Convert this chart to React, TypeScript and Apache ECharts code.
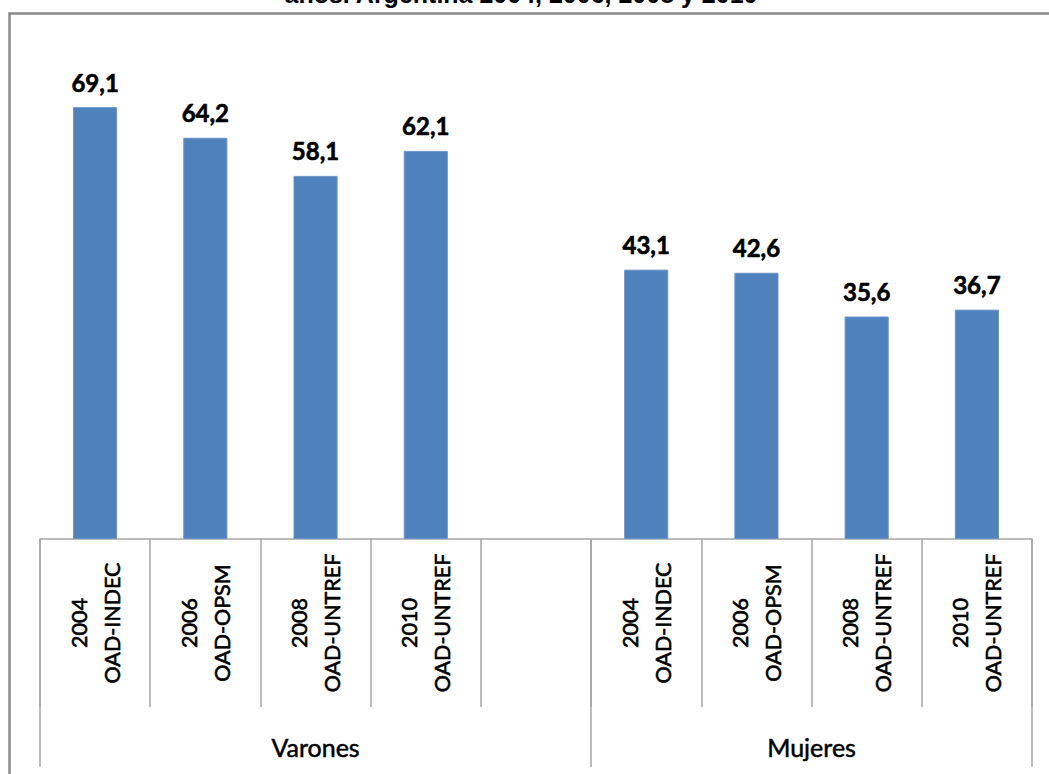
import React, { useEffect, useRef } from "react";
import * as echarts from "echarts";

const titleLine = "años. Argentina 2004, 2006, 2008 y 2010";
const groups = ["Varones", "Mujeres"];
const years = ["2004", "2006", "2008", "2010"];
const sources = ["OAD-INDEC", "OAD-OPSM", "OAD-UNTREF", "OAD-UNTREF"];
const varones = [69.1, 64.2, 58.1, 62.1];
const mujeres = [43.1, 42.6, 35.6, 36.7];

const FONT = "Lato";
const AXIS_GRAY = "#a6a6a6";

export default function App() {
  const ref = useRef<HTMLDivElement>(null);
  useEffect(() => {
    if (!ref.current) return;
    const chart = echarts.init(ref.current, null, { renderer: "svg" });
    const catLabels = years.map((y, i) => `${y}\n${sources[i]}`);
    const categories = [...catLabels, "", ...catLabels];
    const values: (number | null)[] = [...varones, null, ...mujeres];
    const nV = varones.length + 1;
    const nTotal = categories.length;
    const groupCenters = [nV / 2, nV + mujeres.length / 2];
    const groupEdges = [0, nV, nTotal];

    chart.setOption({
      animation: false,
      backgroundColor: "#ffffff",
      grid: { left: 40, right: 17, top: 39, bottom: 235, containLabel: false },
      xAxis: [
        {
          type: "category",
          data: categories,
          position: "bottom",
          axisLine: { show: true, lineStyle: { color: AXIS_GRAY, width: 1.5 } },
          axisTick: { show: true, length: 168, lineStyle: { color: AXIS_GRAY, width: 1.5 } },
          axisLabel: {
            interval: 0,
            rotate: 90,
            align: "center",
            verticalAlign: "middle",
            margin: 84,
            lineHeight: 33,
            fontFamily: FONT,
            fontSize: 21.5,
            color: "#000000",
            textBorderColor: "#000000",
            textBorderWidth: 0.6,
          },
        },
        {
          type: "value",
          min: 0,
          max: nTotal,
          position: "bottom",
          offset: 0,
          axisLine: { show: false },
          splitLine: { show: false },
          axisTick: {
            show: true,
            customValues: groupEdges,
            length: 228,
            lineStyle: { color: AXIS_GRAY, width: 1.5 },
          },
          axisLabel: {
            show: true,
            customValues: groupCenters,
            formatter: (v: number) => {
              const idx = groupCenters.indexOf(v);
              return idx >= 0 ? groups[idx] : "";
            },
            verticalAlign: "middle",
            margin: 208,
            fontFamily: FONT,
            fontSize: 25,
            color: "#000000",
            textBorderColor: "#000000",
            textBorderWidth: 0.5,
          },
        },
      ],
      yAxis: { type: "value", min: 0, max: 80, show: false },
      series: [
        {
          type: "bar",
          xAxisIndex: 0,
          data: values,
          barWidth: "40%",
          itemStyle: { color: "#4F81BD", borderColor: "#6a93c8", borderWidth: 1 },
          label: {
            show: true,
            position: "top",
            distance: 13,
            fontFamily: FONT,
            fontWeight: "bold",
            fontSize: 24,
            color: "#000000",
            textBorderColor: "#000000",
            textBorderWidth: 0.6,
            formatter: (p: any) => (p.value == null ? "" : Number(p.value).toFixed(1).replace(".", ",")),
          },
        },
      ],
      graphic: [
        {
          type: "rect",
          shape: { x: 9.5, y: 13.5, width: 1200, height: 900 },
          style: { fill: "none", stroke: "#8a8a8a", lineWidth: 2.5 },
          silent: true,
        },
        {
          type: "text",
          x: 521,
          y: -6,
          style: {
            text: titleLine,
            fontFamily: "Liberation Sans",
            fontWeight: "bold",
            fontSize: 25,
            fill: "#000000",
            align: "center",
            verticalAlign: "middle",
          },
          silent: true,
        },
      ],
    });
    return () => chart.dispose();
  }, []);
  return (
    <div
      ref={ref}
      style={{ position: "fixed", left: 0, top: 0, width: 1049, height: 774, background: "#fff" }}
    />
  );
}
